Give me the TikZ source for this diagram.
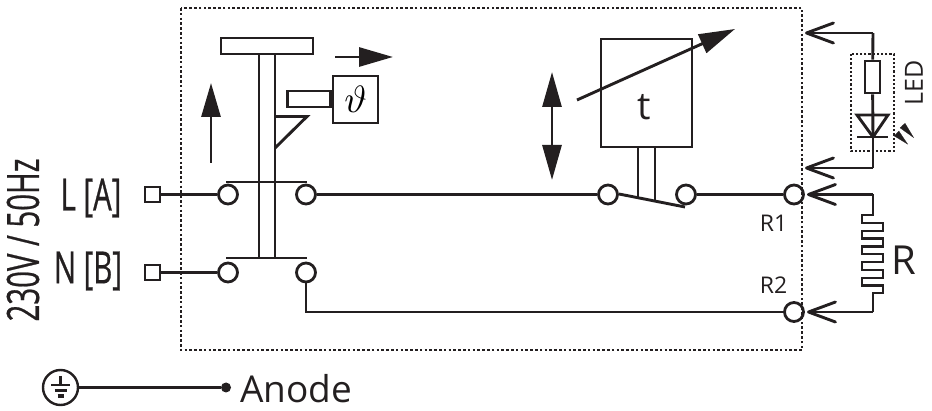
\documentclass[tikz,border=0pt]{standalone}
\usepackage{fontspec}
\usetikzlibrary{arrows.meta, positioning}
\setmainfont{Open Sans}
\newfontfamily\condfont[FakeStretch=0.66, FakeBold=0.5]{Open Sans}
\definecolor{ink}{HTML}{231F20}
\tikzstyle{Contact} = [circle, draw=ink, line width=2.8pt, fill=white, inner sep=0pt, minimum size=19pt]
\tikzstyle{Terminal} = [rectangle, draw=ink, line width=2.4pt, inner sep=0pt, minimum size=15.5pt]
\tikzstyle{Block} = [rectangle, draw=ink, line width=2.9pt, inner sep=0pt]
\tikzstyle{Wire} = [draw=ink, line width=2.9pt]
\tikzstyle{Thin} = [draw=ink, line width=2.5pt]
\tikzstyle{Frame} = [draw=ink, line width=2.8pt, dash pattern=on 2.6pt off 2.2pt]
\tikzstyle{Move} = [draw=ink, line width=2.9pt, -{Triangle[length=34pt, width=19pt]}]
\tikzstyle{Probe} = [draw=ink, line width=2.9pt, -{Straight Barb[length=27pt, width=20pt, line width=2.9pt, round]}]
\tikzstyle{Small} = [text=ink, font=\fontsize{23}{23}\selectfont, inner sep=0pt]
\tikzstyle{Cond} = [text=ink, font=\condfont\fontsize{44.5}{44.5}\selectfont, inner sep=0pt]

\begin{document}
\begin{tikzpicture}
    [x=1pt, y=-1pt]
    \useasboundingbox (0,0) rectangle (932,411);

    %% Housing
    \draw [Frame] (181,8) rectangle (802,350);

    %% Contacts
    \node [Terminal] (termL) at (152.5,194.5) {};
    \node [Terminal] (termN) at (152.5,272.5) {};
    \node [Contact] (inL) at (228,194.5) {};
    \node [Contact] (outL) at (306,194.5) {};
    \node [Contact] (inN) at (228,272.5) {};
    \node [Contact] (outN) at (306,272.5) {};
    \node [Contact] (inT) at (608,194.5) {};
    \node [Contact] (outT) at (686,194.5) {};
    \node [Contact, fill=none] (pinA) at (794,194.5) {};
    \node [Contact, fill=none] (pinB) at (794,312) {};

    %% Breaker
    \node [Block, minimum width=92pt, minimum height=16pt] (cap) at (267,46) {};
    \node [Block, minimum width=45pt, minimum height=47pt] (therm) at (355.5,99.5) {\scalebox{3.8}{$\vartheta$}};
    \node [Block, anchor=east, minimum width=43pt, minimum height=16pt] (bimetal) at (therm.west |- 0,99) {};
    \coordinate (stemAtop) at (259,54);
    \coordinate (stemBtop) at (275,54);
    \coordinate (stemAend) at (259,258);
    \coordinate (stemBend) at (275,258);
    \coordinate (barLa) at (226,182);
    \coordinate (barLb) at (307,182);
    \coordinate (barNa) at (226,258);
    \coordinate (barNb) at (307,258);
    \coordinate (latchA) at (275,116.5);
    \coordinate (latchB) at (307,116.5);
    \coordinate (latchC) at (275,148);
    \coordinate (pushA) at (211,163);
    \coordinate (pushB) at (211,83);
    \coordinate (tripA) at (335,57);
    \coordinate (tripB) at (393,57);

    %% Timer
    \node [Block, minimum width=91pt, minimum height=108pt] (timer) at (646.5,93) {};
    \node [text=ink, font=\fontsize{38}{38}\selectfont, inner sep=0pt] (tlabel) at (644,107) {t};
    \coordinate (armA) at (638,147);
    \coordinate (armB) at (655,147);
    \coordinate (armAend) at (638,199);
    \coordinate (armBend) at (655,202);
    \coordinate (leverA) at (619,194);
    \coordinate (leverB) at (685,207);
    \coordinate (adjA) at (577,100);
    \coordinate (adjB) at (735,29);
    \coordinate (setA) at (552,72);
    \coordinate (setB) at (552,180);

    %% LED
    \draw [Frame, line width=2.2pt, dash pattern=on 2.2pt off 2pt] (851,54) rectangle (894,151);
    \node [Block, fill=white, minimum width=15pt, minimum height=32pt] (ledres) at (872.5,77) {};
    \node [text=ink, font=\fontsize{25}{25}\selectfont, inner sep=0pt, rotate=90] (ledtext) at (914,83) {LED};
    \coordinate (ledA) at (805,33);
    \coordinate (ledAc) at (873,33);
    \coordinate (ledB) at (805,168);
    \coordinate (ledBc) at (873,168);
    \coordinate (diodeA) at (857,115);
    \coordinate (diodeB) at (888,115);
    \coordinate (diodeC) at (873,137);
    \coordinate (diodeD) at (857,137);
    \coordinate (diodeE) at (888,137);
    \coordinate (rayAs) at (902,125);
    \coordinate (rayAe) at (914,138);
    \coordinate (rayBs) at (896,133);
    \coordinate (rayBe) at (908,144.5);

    %% Resistor
    \coordinate (resA) at (873,194.5);
    \coordinate (resB) at (873,312);
    \coordinate (tipA) at (807,194.5);
    \coordinate (tipB) at (807,312);
    \node [Small] (labA) at (773.5,223) {R1};
    \node [Small] (labB) at (773.5,285) {R2};
    \node [text=ink, font=\fontsize{40}{40}\selectfont, inner sep=0pt] (labR) at (904,260) {R};

    %% Mains
    \node [Cond] (nameL) at (91,198) {L [A]};
    \node [Cond] (nameN) at (88,271) {N [B]};
    \node [Cond, rotate=90] (mains) at (23,240) {230V / 50Hz};

    %% Earth
    \node [circle, draw=ink, line width=2.4pt, inner sep=0pt, minimum size=35pt] (earth) at (60.5,387.5) {};
    \node [circle, fill=ink, inner sep=0pt, minimum size=10pt] (dot) at (226,387.5) {};
    \node [text=ink, font=\fontsize{37}{37}\selectfont, inner sep=0pt, anchor=west] (anode) at (240,389) {Anode};
    \coordinate (gndTop) at (60.5,376);
    \coordinate (gndMid) at (60.5,385);
    \coordinate (gndAa) at (51,385);
    \coordinate (gndAb) at (70,385);
    \coordinate (gndBa) at (54.5,390.5);
    \coordinate (gndBb) at (66.5,390.5);
    \coordinate (gndCa) at (57.5,396);
    \coordinate (gndCb) at (63.5,396);

    %% Draw
    \draw [Thin] (termL) -- (inL);
    \draw [Thin] (termN) -- (inN);
    \draw [Wire] (outL) -- (inT);
    \draw [Wire] (outT) -- (pinA);
    \draw [Wire] (outN) |- (pinB);
    \draw [Wire] (stemAtop) -- (stemAend);
    \draw [Wire] (stemBtop) -- (stemBend);
    \draw [Wire] (barLa) -- (barLb);
    \draw [Wire] (barNa) -- (barNb);
    \draw [Wire, line join=miter] (latchA) -- (latchB) -- (latchC);
    \draw [Move] (pushA) -- (pushB);
    \draw [Move] (tripA) -- (tripB);
    \draw [Wire] (armA) -- (armAend);
    \draw [Wire] (armB) -- (armBend);
    \draw [Wire] (leverA) -- (leverB);
    \draw [Move, -{Triangle[length=36pt, width=20pt]}] (adjA) -- (adjB);
    \draw [Move, {Triangle[length=35pt, width=19pt]}-{Triangle[length=35pt, width=19pt]}] (setA) -- (setB);

    \draw [Probe] (ledAc) -- (ledA);
    \draw [Wire] (ledAc) -- (ledres);
    \draw [Wire] (ledres) -- (diodeC);
    \draw [Wire] (diodeC) -- (ledBc);
    \draw [Probe] (ledBc) -- (ledB);
    \draw [Wire, line join=miter] (diodeA) -- (diodeB) -- (diodeC) -- cycle;
    \draw [Wire] (diodeD) -- (diodeE);
    \draw [draw=ink, line width=0.2pt, -{Triangle[length=17pt, width=7pt]}] (rayAs) -- (rayAe);
    \draw [draw=ink, line width=0.2pt, -{Triangle[length=16pt, width=7pt]}] (rayBs) -- (rayBe);

    \draw [Probe] (resA) -- (tipA);
    \draw [Probe] (resB) -- (tipB);
    \draw [Wire, line join=miter] (resA) -- ++(0,20.5) -- ++(-11,0) -- ++(0,8) -- ++(21,0) -- ++(0,8) -- ++(-21,0)
        -- ++(0,7.5) -- ++(21,0) -- ++(0,8) -- ++(-21,0) -- ++(0,7.5) -- ++(21,0) -- ++(0,8) -- ++(-21,0)
        -- ++(0,8) -- ++(21,0) -- ++(0,8) -- ++(-21,0) -- ++(0,7.5) -- ++(21,0) -- ++(0,7.5) -- ++(-10,0) -- (resB);

    \draw [Thin] (earth) -- (dot);
    \draw [Thin] (gndTop) -- (gndMid);
    \draw [Thin] (gndAa) -- (gndAb);
    \draw [Thin, line width=3.4pt] (gndBa) -- (gndBb);
    \draw [Thin, line width=3.4pt] (gndCa) -- (gndCb);

\end{tikzpicture}
\end{document}
